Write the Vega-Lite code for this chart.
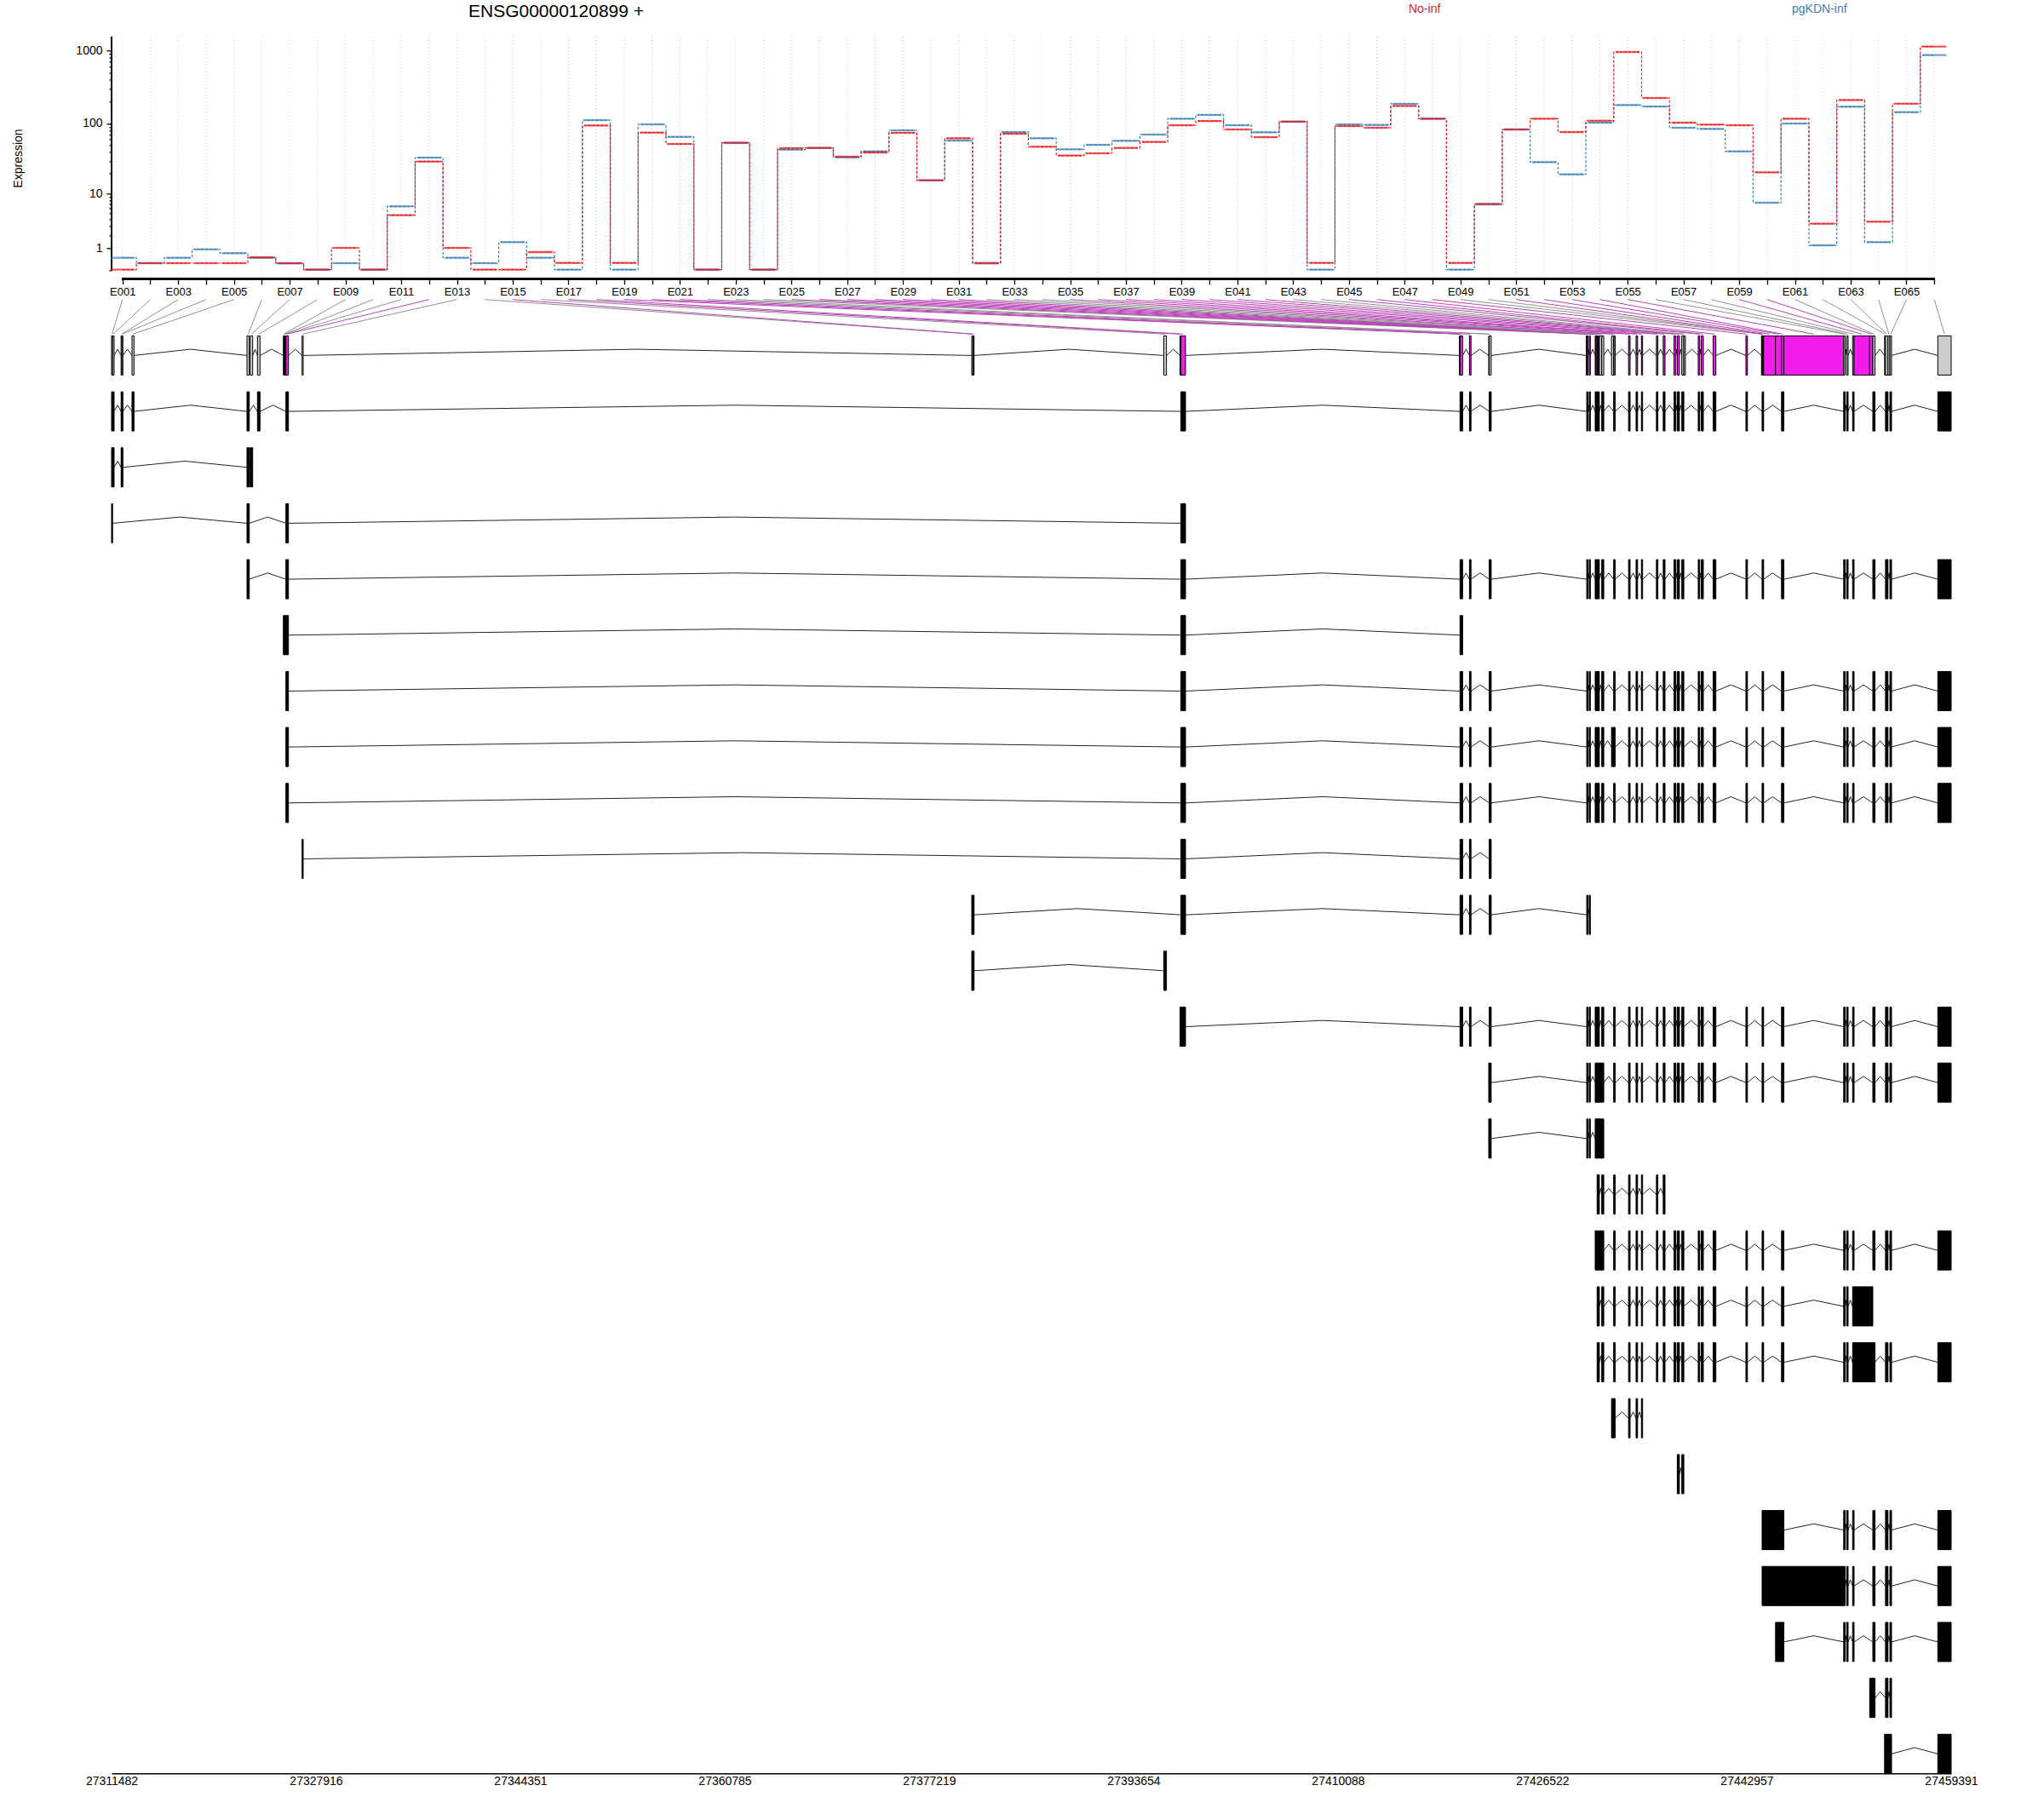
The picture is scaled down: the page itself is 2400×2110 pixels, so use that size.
{
  "$schema": "https://vega.github.io/schema/vega-lite/v6.json",
  "width": 2160,
  "height": 2039,
  "autosize": {"type": "none"},
  "padding": {"left": 131, "top": 43.3, "right": 109, "bottom": 27.7},
  "background": "white",
  "config": {"font": "Liberation Sans", "view": {"stroke": null}},
  "title": {"text": "ENSG00000120899 +", "anchor": "start", "align": "center", "dx": 522, "dy": 37, "frame": "group", "offset": 0, "fontSize": 21, "fontWeight": "normal", "color": "black", "baseline": "alphabetic"},
  "datasets": {
    "bins": [
      {"bin":1,"start":27311482,"end":27311564,"sig":0,"No-inf":0.02,"pgKDN-inf":0.48},
      {"bin":2,"start":27311564,"end":27311687,"sig":0,"No-inf":0.25,"pgKDN-inf":0.25},
      {"bin":3,"start":27312249,"end":27312317,"sig":0,"No-inf":0.25,"pgKDN-inf":0.48},
      {"bin":4,"start":27312317,"end":27312393,"sig":0,"No-inf":0.25,"pgKDN-inf":0.93},
      {"bin":5,"start":27313125,"end":27313283,"sig":0,"No-inf":0.25,"pgKDN-inf":0.71},
      {"bin":6,"start":27322370,"end":27322555,"sig":0,"No-inf":0.5,"pgKDN-inf":0.48},
      {"bin":7,"start":27322623,"end":27322828,"sig":0,"No-inf":0.25,"pgKDN-inf":0.24},
      {"bin":8,"start":27323212,"end":27323417,"sig":0,"No-inf":0.02,"pgKDN-inf":0.02},
      {"bin":9,"start":27325294,"end":27325349,"sig":0,"No-inf":1.02,"pgKDN-inf":0.25},
      {"bin":10,"start":27325349,"end":27325410,"sig":0,"No-inf":0.02,"pgKDN-inf":0.02},
      {"bin":11,"start":27325410,"end":27325485,"sig":0,"No-inf":4.65,"pgKDN-inf":6.45},
      {"bin":12,"start":27325499,"end":27325704,"sig":1,"No-inf":29.5,"pgKDN-inf":33.5},
      {"bin":13,"start":27326800,"end":27326889,"sig":0,"No-inf":1.02,"pgKDN-inf":0.48},
      {"bin":14,"start":27380643,"end":27380739,"sig":0,"No-inf":0.02,"pgKDN-inf":0.25},
      {"bin":15,"start":27380739,"end":27380831,"sig":1,"No-inf":0.02,"pgKDN-inf":1.42},
      {"bin":16,"start":27396085,"end":27396297,"sig":0,"No-inf":0.77,"pgKDN-inf":0.48},
      {"bin":17,"start":27397392,"end":27397461,"sig":1,"No-inf":0.26,"pgKDN-inf":0.02},
      {"bin":18,"start":27397461,"end":27397831,"sig":1,"No-inf":93.7,"pgKDN-inf":111},
      {"bin":19,"start":27419853,"end":27419900,"sig":1,"No-inf":0.26,"pgKDN-inf":0.02},
      {"bin":20,"start":27419900,"end":27420112,"sig":1,"No-inf":74.7,"pgKDN-inf":97.2},
      {"bin":21,"start":27420661,"end":27420784,"sig":1,"No-inf":52,"pgKDN-inf":65.3},
      {"bin":22,"start":27422208,"end":27422249,"sig":0,"No-inf":0.02,"pgKDN-inf":0.02},
      {"bin":23,"start":27422249,"end":27422407,"sig":0,"No-inf":54,"pgKDN-inf":54},
      {"bin":24,"start":27430048,"end":27430089,"sig":0,"No-inf":0.02,"pgKDN-inf":0.02},
      {"bin":25,"start":27430089,"end":27430185,"sig":1,"No-inf":45.4,"pgKDN-inf":43.4},
      {"bin":26,"start":27430289,"end":27430378,"sig":1,"No-inf":45.8,"pgKDN-inf":45.8},
      {"bin":27,"start":27430768,"end":27430836,"sig":1,"No-inf":34.5,"pgKDN-inf":33.8},
      {"bin":28,"start":27430836,"end":27430925,"sig":1,"No-inf":39.5,"pgKDN-inf":41},
      {"bin":29,"start":27430925,"end":27431007,"sig":1,"No-inf":74.2,"pgKDN-inf":80.4},
      {"bin":30,"start":27431007,"end":27431055,"sig":1,"No-inf":15.9,"pgKDN-inf":15.9},
      {"bin":31,"start":27431055,"end":27431103,"sig":1,"No-inf":62.4,"pgKDN-inf":58},
      {"bin":32,"start":27431103,"end":27431295,"sig":0,"No-inf":0.25,"pgKDN-inf":0.25},
      {"bin":33,"start":27431295,"end":27431459,"sig":0,"No-inf":72.1,"pgKDN-inf":76.1},
      {"bin":34,"start":27432082,"end":27432253,"sig":0,"No-inf":47.5,"pgKDN-inf":62.4},
      {"bin":35,"start":27432253,"end":27432377,"sig":1,"No-inf":35.8,"pgKDN-inf":43.8},
      {"bin":36,"start":27433452,"end":27433575,"sig":1,"No-inf":38.5,"pgKDN-inf":50.6},
      {"bin":37,"start":27434055,"end":27434178,"sig":1,"No-inf":45.8,"pgKDN-inf":57.5},
      {"bin":38,"start":27434486,"end":27434582,"sig":1,"No-inf":55.5,"pgKDN-inf":70.2},
      {"bin":39,"start":27435691,"end":27435808,"sig":1,"No-inf":94.5,"pgKDN-inf":116},
      {"bin":40,"start":27436239,"end":27436383,"sig":1,"No-inf":108,"pgKDN-inf":131},
      {"bin":41,"start":27437109,"end":27437253,"sig":1,"No-inf":82.6,"pgKDN-inf":94.5},
      {"bin":42,"start":27437369,"end":27437540,"sig":1,"No-inf":64.7,"pgKDN-inf":75.4},
      {"bin":43,"start":27437732,"end":27437896,"sig":0,"No-inf":106,"pgKDN-inf":106},
      {"bin":44,"start":27437896,"end":27438020,"sig":0,"No-inf":0.26,"pgKDN-inf":0.02},
      {"bin":45,"start":27439054,"end":27439170,"sig":1,"No-inf":92,"pgKDN-inf":97.2},
      {"bin":46,"start":27439293,"end":27439465,"sig":1,"No-inf":87.2,"pgKDN-inf":95.4},
      {"bin":47,"start":27440252,"end":27440471,"sig":1,"No-inf":174,"pgKDN-inf":186},
      {"bin":48,"start":27442888,"end":27443012,"sig":1,"No-inf":116,"pgKDN-inf":116},
      {"bin":49,"start":27444140,"end":27444189,"sig":0,"No-inf":0.26,"pgKDN-inf":0.02},
      {"bin":50,"start":27444189,"end":27444244,"sig":0,"No-inf":7.07,"pgKDN-inf":6.9},
      {"bin":51,"start":27444244,"end":27444312,"sig":1,"No-inf":82.6,"pgKDN-inf":82.6},
      {"bin":52,"start":27444312,"end":27445270,"sig":1,"No-inf":116,"pgKDN-inf":28.9},
      {"bin":53,"start":27445270,"end":27445750,"sig":1,"No-inf":76.1,"pgKDN-inf":19.4},
      {"bin":54,"start":27445750,"end":27445941,"sig":1,"No-inf":109,"pgKDN-inf":102.5},
      {"bin":55,"start":27445941,"end":27450748,"sig":1,"No-inf":954,"pgKDN-inf":179},
      {"bin":56,"start":27450748,"end":27450865,"sig":0,"No-inf":224,"pgKDN-inf":171},
      {"bin":57,"start":27450988,"end":27451105,"sig":0,"No-inf":102.5,"pgKDN-inf":87.2},
      {"bin":58,"start":27451467,"end":27451585,"sig":0,"No-inf":96.3,"pgKDN-inf":84},
      {"bin":59,"start":27451585,"end":27452838,"sig":1,"No-inf":94.5,"pgKDN-inf":41},
      {"bin":60,"start":27452838,"end":27453091,"sig":1,"No-inf":20.7,"pgKDN-inf":7.36},
      {"bin":61,"start":27453091,"end":27453269,"sig":0,"No-inf":116,"pgKDN-inf":99.8},
      {"bin":62,"start":27454036,"end":27454111,"sig":0,"No-inf":3.32,"pgKDN-inf":1.19},
      {"bin":63,"start":27454111,"end":27454310,"sig":0,"No-inf":210,"pgKDN-inf":170},
      {"bin":64,"start":27454310,"end":27454467,"sig":0,"No-inf":3.6,"pgKDN-inf":1.42},
      {"bin":65,"start":27454467,"end":27454598,"sig":0,"No-inf":187,"pgKDN-inf":143},
      {"bin":66,"start":27458316,"end":27459391,"sig":0,"No-inf":1131,"pgKDN-inf":866}
    ],
    "tx": [
      {"tx":0,"b":[1,2,3,4,5,6,7,8,9,10,11,12,13,14,15,16,17,18,19,20,21,22,23,24,25,26,27,28,29,30,31,32,33,34,35,36,37,38,39,40,41,42,43,44,45,46,47,48,49,50,51,52,53,54,55,56,57,58,59,60,61,62,63,64,65,66]},
      {"tx":1,"b":[1,2,3,4,5,6,8,12,18,20,21,23,25,26,27,28,29,30,31,33,35,36,37,38,39,40,41,42,43,45,46,47,48,50,51,54,56,57,58,61,63,65,66]},
      {"tx":2,"b":[1,2,3,4,6,7]},
      {"tx":3,"b":[1,6,12,18]},
      {"tx":4,"b":[6,12,18,20,21,23,25,26,27,28,29,30,31,33,35,36,37,38,39,40,41,42,43,45,46,47,48,50,51,54,56,57,58,61,63,65,66]},
      {"tx":5,"b":[9,10,11,12,18,20]},
      {"tx":6,"b":[12,18,20,21,23,25,26,27,28,29,30,31,33,35,36,37,38,39,40,41,42,43,45,46,47,48,50,51,54,56,57,58,61,63,65,66]},
      {"tx":7,"b":[12,18,20,21,23,25,26,27,28,29,30,31,33,34,35,36,37,38,39,40,41,42,43,45,46,47,48,50,51,54,56,57,58,61,63,65,66]},
      {"tx":8,"b":[12,18,20,21,23,25,26,27,28,29,30,31,33,35,36,37,38,39,40,41,42,43,45,46,47,48,50,51,54,56,57,58,61,63,65,66]},
      {"tx":9,"b":[13,18,20,21,23]},
      {"tx":10,"b":[14,15,18,20,21,23,25,26]},
      {"tx":11,"b":[14,15,16]},
      {"tx":12,"b":[17,18,20,21,23,25,26,27,28,29,30,31,33,35,36,37,38,39,40,41,42,43,45,46,47,48,50,51,54,56,57,58,61,63,65,66]},
      {"tx":13,"b":[22,23,25,26,27,28,29,30,31,32,33,35,36,37,38,39,40,41,42,43,45,46,47,48,50,51,54,56,57,58,61,63,65,66]},
      {"tx":14,"b":[22,23,25,26,27,28,29,30,31,32,33]},
      {"tx":15,"b":[29,30,31,33,35,36,37,38,39,40]},
      {"tx":16,"b":[27,28,29,30,31,32,33,35,36,37,38,39,40,41,42,43,45,46,47,48,50,51,54,56,57,58,61,63,65,66]},
      {"tx":17,"b":[29,30,31,33,35,36,37,38,39,40,41,42,43,45,46,47,48,50,51,54,56,57,58,59,60]},
      {"tx":18,"b":[29,30,31,33,35,36,37,38,39,40,41,42,43,45,46,47,48,50,51,54,56,57,58,59,60,61,63,65,66]},
      {"tx":19,"b":[34,35,36,37,38]},
      {"tx":20,"b":[42,43]},
      {"tx":21,"b":[50,51,52,53,54,56,57,58,61,63,65,66]},
      {"tx":22,"b":[50,51,52,53,54,55,56,57,58,61,63,65,66]},
      {"tx":23,"b":[53,54,56,57,58,61,63,65,66]},
      {"tx":24,"b":[60,61,63,65]},
      {"tx":25,"b":[62,63,64,65,66]}
    ]
  },
  "layer": [
    {
      "data": {"name": "bins"},
      "mark": {"type": "rule", "strokeDash": [1, 3], "strokeWidth": 1.2},
      "encoding": {
        "x": {"field": "bin", "type": "quantitative", "scale": {"domain": [0.6105, 66.6046], "nice": false, "zero": false},
          "axis": {"orient": "bottom", "offset": -1754.6, "values": [1,2,3,4,5,6,7,8,9,10,11,12,13,14,15,16,17,18,19,20,21,22,23,24,25,26,27,28,29,30,31,32,33,34,35,36,37,38,39,40,41,42,43,44,45,46,47,48,49,50,51,52,53,54,55,56,57,58,59,60,61,62,63,64,65,66],
            "labelExpr": "datum.value % 2 === 1 ? 'E' + (datum.value < 10 ? '00' : '0') + datum.value : ''",
            "title": null, "grid": false, "domain": false, "ticks": true, "tickSize": 6, "tickColor": "black", "tickWidth": 1.3, "labelFontSize": 13, "labelColor": "black", "labelPadding": 3, "labelOverlap": false, "labelFlush": false, "labelBound": false, "labelAngle": 0}},
        "y": {"datum": 1535, "type": "quantitative",
          "scale": {"type": "symlog", "constant": 1, "domain": [-0.3205, 1535], "range": [284.4, 0], "nice": false, "zero": false},
          "axis": {"orient": "left", "values": [0,1,2,3,4,5,6,7,8,9,10,20,30,40,50,60,70,80,90,100,200,300,400,500,600,700,800,900,1000],
            "labelExpr": "indexof([1,10,100,1000], datum.value) >= 0 ? datum.label : ''",
            "format": "d", "grid": false, "domain": false, "ticks": true,
            "tickSize": {"condition": {"test": "indexof([1,10,100,1000], datum.value) >= 0", "value": 6}, "value": 3},
            "tickColor": "black", "tickWidth": 1.3, "labelFontSize": 14, "labelColor": "black", "labelPadding": 5, "labelOverlap": false, "labelBound": false, "labelFlush": false,
            "title": "Expression", "titleX": -109.4, "titleY": 142.2, "titleAngle": -90, "titleAlign": "center", "titleBaseline": "middle", "titleFontSize": 14, "titleFontWeight": "normal", "titleColor": "black"}},
        "y2": {"datum": -0.3205},
        "color": {"condition": {"test": "datum.sig == 1", "value": "#F2A3F0"}, "value": "#D6D6D6"}
      }
    },
    {
      "data": {"name": "bins"},
      "mark": {"type": "rule", "strokeWidth": 2, "color": "black"},
      "encoding": {
        "x": {"datum": 1, "type": "quantitative", "scale": {"domain": [0.6105, 66.6046], "nice": false, "zero": false}, "axis": null},
        "x2": {"datum": 66},
        "y": {"datum": -0.3205, "type": "quantitative", "scale": {"type": "symlog", "constant": 1, "domain": [-0.3205, 1535], "range": [284.4, 0], "nice": false, "zero": false}, "axis": null}
      }
    },
    {
      "data": {"name": "bins"},
      "mark": {"type": "rule", "strokeWidth": 2, "color": "black"},
      "encoding": {
        "x": {"datum": 0.6105, "type": "quantitative", "scale": {"domain": [0.6105, 66.6046], "nice": false, "zero": false}, "axis": null},
        "y": {"datum": 0, "type": "quantitative", "scale": {"type": "symlog", "constant": 1, "domain": [-0.3205, 1535], "range": [284.4, 0], "nice": false, "zero": false}, "axis": null},
        "y2": {"datum": 1535}
      }
    },
    {
      "data": {"name": "bins"},
      "transform": [{"fold": ["pgKDN-inf", "No-inf"], "as": ["cond", "value"]}],
      "mark": {"type": "line", "interpolate": "step", "strokeDash": [3, 2], "strokeWidth": 1.2},
      "encoding": {
        "x": {"field": "bin", "type": "quantitative", "scale": {"domain": [0.6105, 66.6046], "nice": false, "zero": false}, "axis": null},
        "y": {"field": "value", "type": "quantitative", "scale": {"type": "symlog", "constant": 1, "domain": [-0.3205, 1535], "range": [284.4, 0], "nice": false, "zero": false}, "axis": null},
        "color": {"field": "cond", "type": "nominal", "scale": {"domain": ["No-inf", "pgKDN-inf"], "range": ["#E41A1C", "#377EB8"]},
          "legend": {"orient": "none", "legendX": 1509, "legendY": -39.5, "direction": "horizontal", "title": null, "symbolOpacity": 0, "symbolSize": 0, "symbolStrokeWidth": 0, "labelOffset": 0, "columnPadding": 398, "labelFontSize": 14, "encode": {"labels": {"update": {"fill": {"signal": "scale('color', datum.value)"}}}}}},
        "order": {"field": "bin", "type": "quantitative"},
        "detail": {"field": "cond"}
      }
    },
    {
      "data": {"name": "bins"},
      "transform": [{"fold": ["pgKDN-inf", "No-inf"], "as": ["cond", "value"]}],
      "mark": {"type": "tick", "orient": "horizontal", "size": 28, "thickness": 2.3},
      "encoding": {
        "x": {"field": "bin", "type": "quantitative", "scale": {"domain": [0.6105, 66.6046], "nice": false, "zero": false}, "axis": null},
        "y": {"field": "value", "type": "quantitative", "scale": {"type": "symlog", "constant": 1, "domain": [-0.3205, 1535], "range": [284.4, 0], "nice": false, "zero": false}, "axis": null},
        "color": {"field": "cond", "type": "nominal",
          "legend": {"orient": "none", "legendX": 1509, "legendY": -39.5, "direction": "horizontal", "title": null, "symbolOpacity": 0, "symbolSize": 0, "symbolStrokeWidth": 0, "labelOffset": 0, "columnPadding": 398, "labelFontSize": 14, "encode": {"labels": {"update": {"fill": {"signal": "scale('color', datum.value)"}}}}}}
      }
    },
    {
      "data": {"name": "bins"},
      "transform": [
        {"calculate": "27311482 + (datum.bin - 0.6105) * 2241.24", "as": "topx"},
        {"calculate": "(datum.start + datum.end) / 2", "as": "mid"}
      ],
      "mark": {"type": "rule", "strokeWidth": 1},
      "encoding": {
        "x": {"field": "topx", "type": "quantitative", "scale": {"domain": [27311482, 27459391], "nice": false, "zero": false}, "axis": null},
        "x2": {"field": "mid"},
        "y": {"datum": -1, "type": "quantitative", "scale": {"domain": [-1, 25.35], "range": [308.4, 2039], "nice": false, "zero": false}, "axis": null},
        "y2": {"datum": -0.382},
        "color": {"condition": {"test": "datum.sig == 1", "value": "#B845B6"}, "value": "#929292"}
      }
    },
    {
      "data": {"name": "tx"},
      "transform": [
        {"flatten": ["b"]},
        {"lookup": "b", "from": {"data": {"name": "bins"}, "key": "bin", "fields": ["start", "end", "sig"]}},
        {"window": [{"op": "lead", "field": "start", "as": "nstart"}], "groupby": ["tx"], "sort": [{"field": "start"}]},
        {"filter": "datum.nstart != null && datum.nstart - datum.end > 20"},
        {"calculate": "(datum.end + datum.nstart) / 2", "as": "imid"}
      ],
      "mark": {"type": "rule", "strokeWidth": 1, "color": "#222222", "y2Offset": -7.3},
      "encoding": {
        "x": {"field": "end", "type": "quantitative", "scale": {"domain": [27311482, 27459391], "nice": false, "zero": false}, "axis": null},
        "x2": {"field": "imid"},
        "y": {"field": "tx", "type": "quantitative", "scale": {"domain": [-1, 25.35], "range": [308.4, 2039], "nice": false, "zero": false}, "axis": null},
        "y2": {"field": "tx"}
      }
    },
    {
      "data": {"name": "tx"},
      "transform": [
        {"flatten": ["b"]},
        {"lookup": "b", "from": {"data": {"name": "bins"}, "key": "bin", "fields": ["start", "end", "sig"]}},
        {"window": [{"op": "lead", "field": "start", "as": "nstart"}], "groupby": ["tx"], "sort": [{"field": "start"}]},
        {"filter": "datum.nstart != null && datum.nstart - datum.end > 20"},
        {"calculate": "(datum.end + datum.nstart) / 2", "as": "imid"}
      ],
      "mark": {"type": "rule", "strokeWidth": 1, "color": "#222222", "yOffset": -7.3},
      "encoding": {
        "x": {"field": "imid", "type": "quantitative", "scale": {"domain": [27311482, 27459391], "nice": false, "zero": false}, "axis": null},
        "x2": {"field": "nstart"},
        "y": {"field": "tx", "type": "quantitative", "scale": {"domain": [-1, 25.35], "range": [308.4, 2039], "nice": false, "zero": false}, "axis": null},
        "y2": {"field": "tx"}
      }
    },
    {
      "data": {"name": "tx"},
      "transform": [
        {"flatten": ["b"]},
        {"lookup": "b", "from": {"data": {"name": "bins"}, "key": "bin", "fields": ["start", "end", "sig"]}}
      ],
      "mark": {"type": "rect", "stroke": "black", "strokeWidth": 1, "yOffset": -23, "y2Offset": 23},
      "encoding": {
        "x": {"field": "start", "type": "quantitative",
          "scale": {"domain": [27311482, 27459391], "nice": false, "zero": false},
          "axis": {"orient": "bottom", "values": [27311482, 27327916, 27344351, 27360785, 27377219, 27393654, 27410088, 27426522, 27442957, 27459391], "format": "d", "title": null, "grid": false, "ticks": false, "domain": true, "domainColor": "black", "domainWidth": 1.5, "labelFontSize": 14, "labelColor": "black", "labelPadding": 2, "labelOverlap": false, "labelFlush": false, "labelBound": false}},
        "x2": {"field": "end"},
        "y": {"field": "tx", "type": "quantitative", "scale": {"domain": [-1, 25.35], "range": [308.4, 2039], "nice": false, "zero": false}, "axis": null},
        "y2": {"field": "tx"},
        "fill": {"condition": [{"test": "datum.tx === 0 && datum.sig == 1", "value": "#F21DED"}, {"test": "datum.tx === 0", "value": "#CCCCCC"}], "value": "black"}
      }
    }
  ],
  "resolve": {"scale": {"x": "independent", "y": "independent"}}
}
